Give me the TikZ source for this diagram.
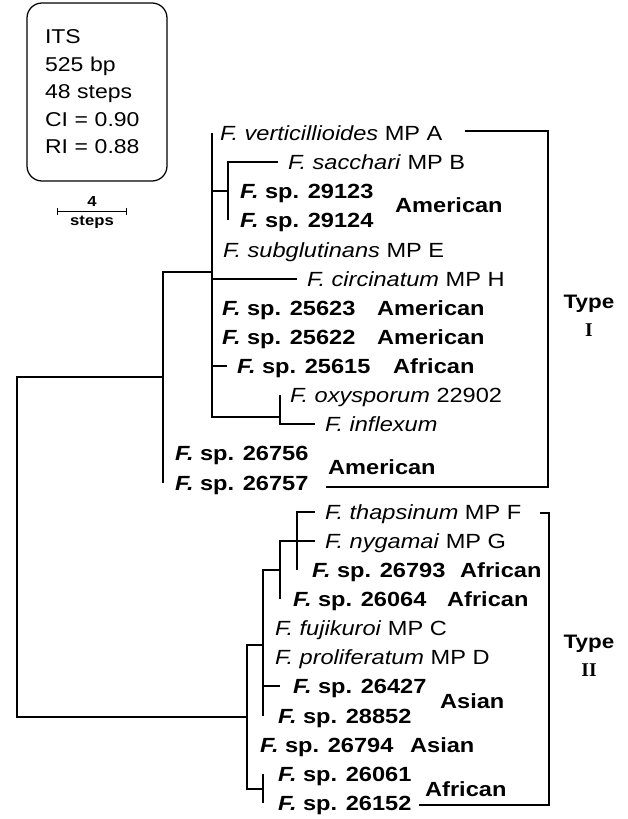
\documentclass[tikz,border=0pt]{standalone}
\usepackage{fontspec}
\setmainfont{Liberation Sans}[FakeStretch=1.15]
\newfontfamily\typeserif{Liberation Serif}
\usepackage{tikz}
\usetikzlibrary{arrows.meta}
\newcommand{\taxfont}{\fontsize{20.5}{24}\selectfont}
\newcommand{\fsn}[1]{\textit{F. #1}}
\newcommand{\fsp}[1]{\textbf{\textit{F.} sp. #1}}
\tikzset{
  branch/.style={line width=1.25pt},
  taxon/.style={anchor=west, inner xsep=#1, inner ysep=0pt, text height=14.7pt, text depth=0pt, font=\taxfont},
  taxon/.default=10pt,
  region/.style={anchor=west, inner sep=0pt, text height=14.7pt, text depth=0pt, font=\taxfont\bfseries},
  typelbl/.style={align=center, font=\fontsize{19.5}{28}\selectfont\bfseries},
  statbox/.style={draw, line width=1.25pt, rounded corners=15pt, minimum width=140pt, minimum height=178pt,
                  text width=104pt, align=left, inner sep=0pt, font=\fontsize{20}{27.5}\selectfont},
  scalelbl/.style={inner sep=0pt, font=\fontsize{14.5}{16}\selectfont\bfseries},
}
\begin{document}
\begin{tikzpicture}[x=1pt, y=-1pt]
  \useasboundingbox (0,0) rectangle (627,819);
  \node[statbox] (stats) at (97,92) {ITS\\525 bp\\48 steps\\CI = 0.90\\RI = 0.88};
  \coordinate (sbl) at (57,211);
  \coordinate (sbr) at (127,211);
  \draw[line width=1pt, {Bar[width=7pt]}-{Bar[width=7pt]}] (sbl) -- (sbr);
  \node[scalelbl] (sbnum) at (92,202) {4};
  \node[scalelbl] (sbunit) at (92,222) {steps};
  % inner nodes
  \coordinate (nR) at (17,547);
  \coordinate (nA) at (163,377);
  \coordinate (nB) at (212,272);
  \coordinate (nC) at (228,191);
  \coordinate (nD) at (280,417);
  \coordinate (nE) at (247,717);
  \coordinate (nF) at (263,645);
  \coordinate (nG) at (263,789);
  \coordinate (nH) at (280,570);
  \coordinate (nI) at (297,541);
  % taxa
  \node[taxon=8pt] (tva) at (212,133) {\fsn{verticillioides} MP A};
  \node[taxon] (tsac) at (278,162) {\fsn{sacchari} MP B};
  \node[taxon=12pt] (t29123) at (228,191) {\fsp{29123}};
  \node[taxon=12pt] (t29124) at (228,220) {\fsp{29124}};
  \node[taxon=11pt] (tsub) at (212,250) {\fsn{subglutinans} MP E};
  \node[taxon] (tcir) at (297,279) {\fsn{circinatum} MP H};
  \node[taxon] (t25623) at (212,308) {\fsp{25623}};
  \node[taxon] (t25622) at (212,337) {\fsp{25622}};
  \node[taxon] (t25615) at (227,366) {\fsp{25615}};
  \node[taxon] (toxy) at (280,395) {\fsn{oxysporum} 22902};
  \node[taxon] (tinf) at (315,424) {\fsn{inflexum}};
  \node[taxon=12pt] (t26756) at (163,453) {\fsp{26756}};
  \node[taxon=12pt] (t26757) at (163,483) {\fsp{26757}};
  \node[taxon] (ttha) at (315,512) {\fsn{thapsinum} MP F};
  \node[taxon] (tnyg) at (315,541) {\fsn{nygamai} MP G};
  \node[taxon=15pt] (t26793) at (297,570) {\fsp{26793}};
  \node[taxon=13pt] (t26064) at (280,599) {\fsp{26064}};
  \node[taxon=12pt] (tfuj) at (263,628) {\fsn{fujikuroi} MP C};
  \node[taxon=12pt] (tpro) at (263,657) {\fsn{proliferatum} MP D};
  \node[taxon=13pt] (t26427) at (280,686) {\fsp{26427}};
  \node[taxon=15pt] (t28852) at (263,716) {\fsp{28852}};
  \node[taxon=13pt] (t26794) at (247,745) {\fsp{26794}};
  \node[taxon=15pt] (t26061) at (263,774) {\fsp{26061}};
  \node[taxon=15pt] (t26152) at (263,803) {\fsp{26152}};
  % branches
  \foreach \c in {nA, nE} \draw[branch] (nR) |- (\c);
  \foreach \c in {nB, t26756, t26757} \draw[branch] (nA) |- (\c);
  \foreach \c in {tva, nC, tsub, tcir, t25623, t25622, t25615, nD} \draw[branch] (nB) |- (\c);
  \foreach \c in {tsac, t29123, t29124} \draw[branch] (nC) |- (\c);
  \foreach \c in {toxy, tinf} \draw[branch] (nD) |- (\c);
  \foreach \c in {nF, t26794, nG} \draw[branch] (nE) |- (\c);
  \foreach \c in {nH, tfuj, tpro, t26427, t28852} \draw[branch] (nF) |- (\c);
  \foreach \c in {nI, t26064} \draw[branch] (nH) |- (\c);
  \foreach \c in {ttha, tnyg, t26793} \draw[branch] (nI) |- (\c);
  \foreach \c in {t26061, t26152} \draw[branch] (nG) |- (\c);
  % origins
  \node[region] (rAm1) at (395,205) {American};
  \node[region] (rAm2) at (377,308) {American};
  \node[region] (rAm3) at (377,337) {American};
  \node[region] (rAf1) at (393,366) {African};
  \node[region] (rAm4) at (328,467) {American};
  \node[region] (rAf2) at (460,570) {African};
  \node[region] (rAf3) at (447,599) {African};
  \node[region] (rAs1) at (440,701) {Asian};
  \node[region] (rAs2) at (410,745) {Asian};
  \node[region] (rAf4) at (425,789) {African};
  % type brackets
  \coordinate (bIa) at (465,131);
  \coordinate (bIb) at (548,487);
  \coordinate (bIc) at (326,487);
  \draw[branch] (bIa) -| (bIb) -- (bIc);
  \coordinate (bIIa) at (540,513);
  \coordinate (bIIb) at (549,805);
  \coordinate (bIIc) at (419,805);
  \draw[branch] (bIIa) -| (bIIb) -- (bIIc);
  \node[typelbl] (typeI) at (589,316) {Type\\{\typeserif I}};
  \node[typelbl] (typeII) at (589,656) {Type\\{\typeserif II}};
\end{tikzpicture}
\end{document}
